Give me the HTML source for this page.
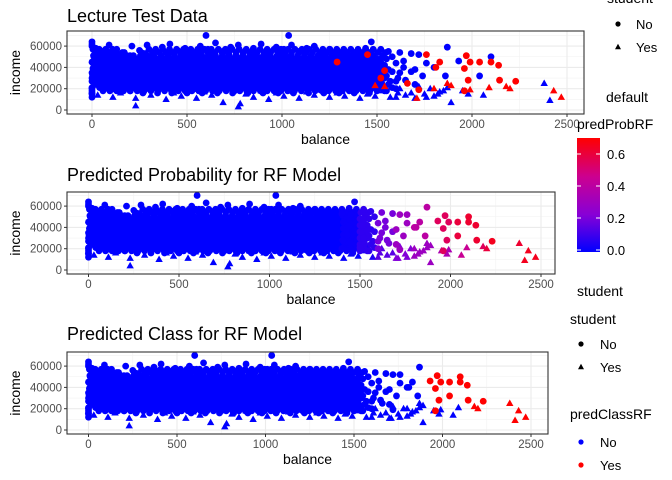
<!DOCTYPE html>
<html><head><meta charset="utf-8"><style>
html,body{margin:0;padding:0;background:#fff;width:672px;height:480px;overflow:hidden}
svg{display:block;font-family:"Liberation Sans",Arial,sans-serif}
</style></head><body>
<svg id="chart" width="672" height="480" viewBox="0 0 672 480"></svg>
<script>
// ---- data (balance, income in thousands) ----
const xTicks=[0,500,1000,1500,2000,2500];
const yTicks=[0,20000,40000,60000];
const yTickLabels=["0","20000","40000","60000"];
const circlePts="0:62,20:58,60:55,90:61,130:57,170:54,210:60,250:56,290:61,330:55,370:59,410:62,450:56,490:58,530:54,570:60,610:57,650:63,690:55,730:59,770:61,810:56,850:58,890:62,930:55,970:59,1010:57,1050:61,1090:55,1130:58,1170:60,1210:54,1250:57,1290:56,1330:55,1380:54,1440:58,1470:64,1520:57,1560:55,1620:54,1680:53,10:50,40:52,80:48,120:53,160:49,200:51,240:47,280:53,320:50,360:48,400:52,440:49,480:53,520:47,560:51,600:49,640:53,680:48,720:52,760:50,800:47,840:53,880:49,920:51,960:48,1000:52,1040:50,1080:47,1120:53,1160:49,1200:51,1240:48,1280:52,1320:50,1360:47,1400:53,1440:49,1480:51,1520:48,1580:50,1640:46,1720:52,5:44,35:41,75:45,115:42,155:46,195:40,235:43,275:45,315:41,355:44,395:42,435:46,475:40,515:43,555:45,595:41,635:44,675:42,715:46,755:40,795:43,835:45,875:41,915:44,955:42,995:46,1035:40,1075:43,1115:45,1155:41,1195:44,1235:42,1275:46,1315:40,1355:43,1395:45,1435:41,1475:44,1515:42,1560:38,1600:44,1680:36,1760:44,1800:40,0:35,30:37,70:33,110:36,150:32,190:38,230:34,270:36,310:33,350:37,390:35,430:32,470:38,510:34,550:36,590:33,630:37,670:35,710:32,750:38,790:34,830:36,870:33,910:37,950:35,990:32,1030:38,1070:34,1110:36,1150:33,1190:37,1230:35,1270:32,1310:38,1350:34,1390:36,1430:33,1470:37,1510:35,1550:32,1620:35,1700:38,1740:32,1860:32,15:28,45:26,85:29,125:25,165:27,205:30,245:24,285:28,325:26,365:29,405:25,445:27,485:30,525:24,565:28,605:26,645:29,685:25,725:27,765:30,805:24,845:28,885:26,925:29,965:25,1005:27,1045:30,1085:24,1125:28,1165:26,1205:29,1245:25,1285:27,1325:30,1365:24,1405:28,1445:26,1485:29,1525:25,1570:27,1650:28,1700:24,0:20,50:22,100:19,150:21,200:18,250:22,300:20,350:19,400:21,450:23,500:18,550:20,600:22,650:19,700:21,750:18,800:22,850:20,900:19,950:21,1000:23,1050:18,1100:20,1150:22,1200:19,1250:21,1300:18,1350:22,1400:20,1450:19,1500:21,1550:18,1600:20,0:64,0:60,0:45,0:30,0:15,0:12,600:70,1035:70,1870:59,2100:50,1930:46,2040:32,1640:40";
// dense core rows: income(k) | balances
const denseRows=[
"57|5,38,72,108,300,335,372,408,445,482,520,556,592,628,665,702,738,775,812,848,885,922,958,995,1032,1068,1105,1142,1178,1215,1252,1288,1325,1362,1400,1440,1480",
"54|22,55,92,128,160,260,318,355,390,428,465,500,538,575,610,648,685,720,758,795,830,868,905,940,978,1015,1050,1088,1125,1160,1198,1235,1270,1308,1345,1380,1420,1460,1505,1545",
"51|8,42,78,112,148,182,218,255,290,325,362,398,434,470,506,542,578,614,650,686,722,758,794,830,866,902,938,974,1010,1046,1082,1118,1154,1190,1226,1262,1298,1334,1370,1406,1442,1478,1530",
"48|25,60,95,130,165,200,236,272,308,344,380,416,452,488,524,560,596,632,668,704,740,776,812,848,884,920,956,992,1028,1064,1100,1136,1172,1208,1244,1280,1316,1352,1388,1424,1460,1500,1550",
"45|2,40,76,112,148,184,220,256,292,328,364,400,436,472,508,544,580,616,652,688,724,760,796,832,868,904,940,976,1012,1048,1084,1120,1156,1192,1228,1264,1300,1336,1372,1408,1444,1480,1520",
"42|20,58,94,130,166,202,238,274,310,346,382,418,454,490,526,562,598,634,670,706,742,778,814,850,886,922,958,994,1030,1066,1102,1138,1174,1210,1246,1282,1318,1354,1390,1426,1462,1500,1540",
"39|5,40,76,112,148,184,220,256,292,328,364,400,436,472,508,544,580,616,652,688,724,760,796,832,868,904,940,976,1012,1048,1084,1120,1156,1192,1228,1264,1300,1336,1372,1408,1444,1480,1520",
"36|22,58,94,130,166,202,238,274,310,346,382,418,454,490,526,562,598,634,670,706,742,778,814,850,886,922,958,994,1030,1066,1102,1138,1174,1210,1246,1282,1318,1354,1390,1426,1462,1500,1580",
"33|3,40,76,112,148,184,220,256,292,328,364,400,436,472,508,544,580,616,652,688,724,760,796,832,868,904,940,976,1012,1048,1084,1120,1156,1192,1228,1264,1300,1336,1372,1408,1444,1480,1520",
"30|20,58,94,130,166,202,238,274,310,346,382,418,454,490,526,562,598,634,670,706,742,778,814,850,886,922,958,994,1030,1066,1102,1138,1174,1210,1246,1282,1318,1354,1390,1426,1462,1500,1540,1610",
"27|0,40,76,112,148,184,220,256,292,328,364,400,436,472,508,544,580,616,652,688,724,760,796,832,868,904,940,976,1012,1048,1084,1120,1156,1192,1228,1264,1300,1336,1372,1408,1444,1480,1520,1600",
"24|22,58,94,130,166,202,238,274,310,346,382,418,454,490,526,562,598,634,670,706,742,778,814,850,886,922,958,994,1030,1066,1102,1138,1174,1210,1246,1282,1318,1354,1390,1426,1462,1500,1560",
"21|0,40,76,112,148,184,220,256,292,328,364,400,436,472,508,544,580,616,652,688,724,760,796,832,868,904,940,976,1012,1048,1084,1120,1156,1192,1228,1264,1300,1336,1372,1408,1444,1480,1520,1580",
"18|0,58,94,130,166,202,238,274,310,346,382,418,454,490,526,562,598,634,670,706,742,778,814,850,886,922,958,994,1030,1066,1102,1138,1174,1210,1246,1282,1318,1354,1390,1426,1462,1500,1540",
"16|0,268,345,420,500,580,660,740,820,900,980,1060,1140,1220,1300,1380,1460"
];
const trianglePts="0:18,30:14,70:20,110:12,150:16,190:22,230:4,230:11,270:18,310:14,350:20,390:10,430:16,470:13,510:19,550:11,590:17,630:14,690:7,730:20,770:3,780:6,810:15,850:12,890:18,930:10,970:16,1010:13,1050:19,1090:11,1130:17,1170:14,1210:20,1250:12,1290:16,1330:13,1370:19,1410:11,1450:15,1490:13,1530:18,1570:12,1610:16,1650:14,1700:11,1750:15,1800:13,1850:18,1890:7,1950:18,1980:15,2060:14,2380:25,2410:9,1620:20,1720:22,1780:20,1830:17,1870:21,1600:12,1680:16,1760:12,1820:15";
const defaultCirclePts="1290:45,1450:52,1540:37,1760:52,1810:40,1830:45,1970:51,1960:39,1990:45,2040:45,2100:45,2140:42,2145:28,2230:27,1660:25,1720:19,1520:30,1980:28,1960:18";
const defaultTrianglePts="1710:11,1800:20,1870:25,1890:23,1990:19,2090:21,2180:22,2200:20,2430:18,2470:12,1490:23,1540:22";
// predicted probability by balance bin (100 wide), for non-students and students
const probBinStart=1400;
const probNonStudent=[0.02,0.08,0.2,0.3,0.4,0.55,0.6,0.62,0.65,0.66,0.68,0.7];
const probStudent=[0.01,0.05,0.15,0.22,0.3,0.35,0.45,0.55,0.6,0.62,0.65,0.68];
const cbTicks=[0,0.2,0.4,0.6];

function parse(s){return s.split(',').map(p=>{const a=p.split(':');return [+a[0],+a[1]*1000];});}
const circles=parse(circlePts),tris=parse(trianglePts),dC=parse(defaultCirclePts),dT=parse(defaultTrianglePts);
const dense=[];denseRows.forEach(r=>{const [inc,bs]=r.split('|');bs.split(',').forEach(b=>dense.push([+b,+inc*1000]));});

const NS='http://www.w3.org/2000/svg';
const svg=document.getElementById('chart');
function mk(tag,attrs,parent){const e=document.createElementNS(NS,tag);for(const k in attrs)e.setAttribute(k,attrs[k]);(parent||svg).appendChild(e);return e;}
function txt(s,attrs,parent){const e=mk('text',attrs,parent);e.textContent=s;return e;}

function probOf(b,student){const arr=student?probStudent:probNonStudent;if(b<probBinStart)return 0;let i=Math.floor((b-probBinStart)/100);if(i>=arr.length)i=arr.length-1;return arr[i];}
function hex(c){return c.toString(16).padStart(2,'0');}
const stops=[[0,[0,0,255]],[0.33,[136,0,214]],[0.66,[204,0,144]],[1,[255,0,0]]];
function probColor(p){let t=Math.min(1,p/0.7);for(let i=1;i<stops.length;i++){if(t<=stops[i][0]){const a=stops[i-1],b=stops[i],f=(t-a[0])/(b[0]-a[0]);return '#'+[0,1,2].map(k=>hex(Math.round(a[1][k]+f*(b[1][k]-a[1][k])))).join('');}}return '#ff0000';}

const panels=[
 {name:'lecture-test',title:'Lecture Test Data',tb:22,L:67,R:584,T:31,B:114,x0:92,p500:95,y0:110},
 {name:'pred-prob',title:'Predicted Probability for RF Model',tb:181,L:67,R:555,T:192,B:274,x0:88.5,p500:90.5,y0:270},
 {name:'pred-class',title:'Predicted Class for RF Model',tb:340,L:67,R:548,T:352,B:434,x0:88.5,p500:88.5,y0:430}
];
const P20=21.3;
panels.forEach((P,pi)=>{
 const g=mk('g',{});
 
 
 const xs=v=>P.x0+v/500*P.p500, ys=v=>P.y0-v/20000*P20;
 const clipId='clip'+pi;
 const cp=mk('clipPath',{id:clipId},g);mk('rect',{x:P.L,y:P.T,width:P.R-P.L,height:P.B-P.T},cp);
 for(let v=-250;v<=2750;v+=500){const x=xs(v);if(x>P.L&&x<P.R)mk('line',{x1:x,x2:x,y1:P.T,y2:P.B,stroke:'#f2f2f2','stroke-width':0.6},g);}
 for(let v=10000;v<=70000;v+=20000){const y=ys(v);if(y>P.T)mk('line',{x1:P.L,x2:P.R,y1:y,y2:y,stroke:'#f2f2f2','stroke-width':0.6},g);}
 xTicks.forEach(v=>{const x=xs(v);if(x<P.R)mk('line',{x1:x,x2:x,y1:P.T,y2:P.B,stroke:'#ebebeb','stroke-width':1.1},g);
   const t=txt(String(v),{x:x,y:P.B+14,'text-anchor':'middle','font-size':'11.5',fill:'#4d4d4d'},g);
   
   mk('line',{x1:x,x2:x,y1:P.B,y2:P.B+3,stroke:'#333','stroke-width':1},g);});
 yTicks.forEach((v,i)=>{const y=ys(v);mk('line',{x1:P.L,x2:P.R,y1:y,y2:y,stroke:'#ebebeb','stroke-width':1.1},g);
   const t=txt(yTickLabels[i],{x:P.L-5,y:y+4,'text-anchor':'end','font-size':'11.5',fill:'#4d4d4d'},g);
   
   mk('line',{x1:P.L-3,x2:P.L,y1:y,y2:y,stroke:'#333','stroke-width':1},g);});
 const pts=mk('g',{'clip-path':'url(#'+clipId+')'},g);
 
 function circ(d,col){const c=mk('circle',{cx:xs(d[0]),cy:ys(d[1]),r:3.4,fill:col},pts);}
 function tri(d,col){const x=xs(d[0]),y=ys(d[1]);const p=mk('polygon',{points:`${x},${y-3.9} ${x-3.7},${y+2.6} ${x+3.7},${y+2.6}`,fill:col},pts);}
 const all=[];dense.forEach(d=>all.push([d,0,0]));circles.forEach(d=>all.push([d,0,0]));tris.forEach(d=>all.push([d,1,0]));dC.forEach(d=>all.push([d,0,1]));dT.forEach(d=>all.push([d,1,1]));
 if(pi===0){all.sort((a,b)=>a[2]-b[2]);}
 else{all.sort((a,b)=>probOf(a[0][0],a[1])-probOf(b[0][0],b[1]));}
 all.forEach(([d,st,df])=>{let col;
   if(pi===0)col=df?'#ff0000':'#0000ff';
   else if(pi===1)col=probColor(probOf(d[0],st));
   else col=probOf(d[0],st)>=0.5?'#ff0000':'#0000ff';
   st?tri(d,col):circ(d,col);});
 mk('rect',{x:P.L,y:P.T,width:P.R-P.L,height:P.B-P.T,fill:'none',stroke:'#333','stroke-width':1.1},g);
 const tt=txt(P.title,{x:P.L,y:P.tb,'font-size':'18',fill:'#000'},g);
 
 const xl=txt('balance',{x:(P.L+P.R)/2,y:P.B+30,'text-anchor':'middle','font-size':'14',fill:'#000'},g);
 
 const cy=(P.T+P.B)/2;
 const yl=txt('income',{x:20,y:cy,'text-anchor':'middle','font-size':'14',fill:'#000',transform:`rotate(-90 20 ${cy})`},g);
 
});

// ---- legends ----
const lg=mk('g',{});

function ltxt(s,x,y,size,name){const t=txt(s,{x:x,y:y,'font-size':size,fill:'#000'},lg);return t;}
function ldot(x,y,col){mk('circle',{cx:x,cy:y,r:2.6,fill:col},lg);}
function ltri(x,y){mk('polygon',{points:`${x},${y-3.3} ${x-3},${y+2.2} ${x+3},${y+2.2}`,fill:'#000'},lg);}
ltxt('student',607,3,'14','legend-title-student');
ldot(618,24,'#000');ltxt('No',636,29,'13','legend-entry-no');
ltri(618,47);ltxt('Yes',636,52,'13','legend-entry-yes');
ltxt('default',606,102,'14','legend-title-default');
ltxt('predProbRF',577,129,'14','legend-title-predprob');
const defs=mk('defs',{});
const lgd=mk('linearGradient',{id:'cbgrad',x1:0,y1:1,x2:0,y2:0},defs);
stops.forEach(s=>mk('stop',{offset:s[0],'stop-color':'rgb('+s[1].join(',')+')'},lgd));
const cbTop=138,cbBot=252,cbX=577,cbW=23;
const cb=mk('rect',{x:cbX,y:cbTop,width:cbW,height:cbBot-cbTop,fill:'url(#cbgrad)'},lg);

cbTicks.forEach(v=>{const y=cbBot-2-v/0.7*(cbBot-cbTop-2);
 mk('line',{x1:cbX,x2:cbX+4,y1:y,y2:y,stroke:'#fff','stroke-width':1},lg);
 mk('line',{x1:cbX+cbW-4,x2:cbX+cbW,y1:y,y2:y,stroke:'#fff','stroke-width':1},lg);
 ltxt(v.toFixed(1),607,y+5,'13','colorbar-label');});
ltxt('student',577,296,'14','legend-title-student-2');
ltxt('student',570,324,'14','legend-title-student-3');
ldot(581,344,'#000');ltxt('No',600,349,'13','legend-entry-no');
ltri(581,367);ltxt('Yes',600,372,'13','legend-entry-yes');
ltxt('predClassRF',570,419,'14','legend-title-predclass');
ldot(581,442,'#0000ff');ltxt('No',600,447,'13','legend-entry-no');
ldot(581,465,'#ff0000');ltxt('Yes',600,470,'13','legend-entry-yes');
</script>
</body></html>
